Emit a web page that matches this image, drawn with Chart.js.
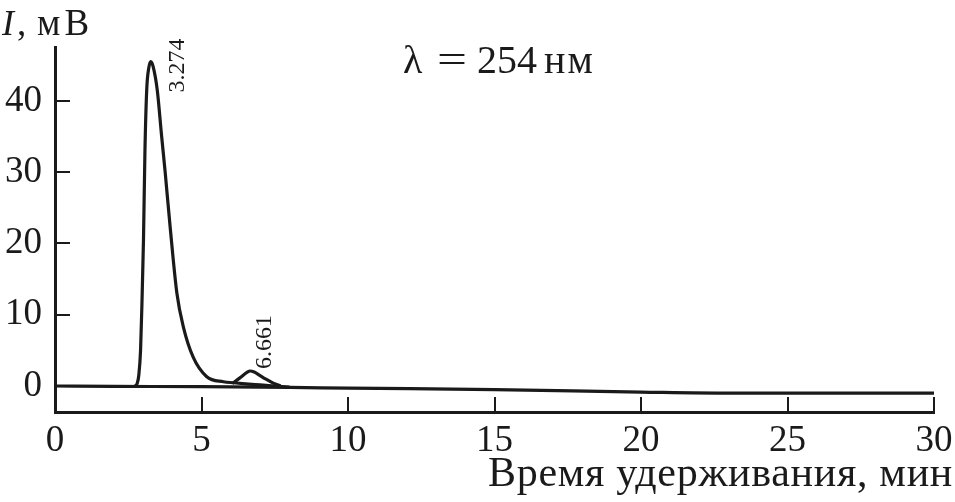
<!DOCTYPE html>
<html>
<head>
<meta charset="utf-8">
<script src="https://cdn.jsdelivr.net/npm/chart.js@4.4.1/dist/chart.umd.min.js"></script>
<style>
  body { margin: 0; background: #fff; }
  canvas { display: block; }
</style>
</head>
<body>
<canvas id="chrom" width="955" height="502"></canvas>
<script>
const ink = '#1a1a1a';
const serif = '"Liberation Serif", "Times New Roman", serif';

// baseline drift (мВ) along retention time (мин)
const baseTime = [0, 2, 5, 8, 10, 15, 20, 23, 25, 30];
const baseSignal = [0, -0.05, -0.1, -0.2, -0.3, -0.5, -0.85, -1.0, -1.0, -1.0];

// main peak 3.274
const peakTime = [2.72, 2.8, 2.86, 2.92, 2.97, 3.02, 3.07, 3.13, 3.2, 3.27, 3.35, 3.49, 3.64, 3.76, 3.93, 4.16, 4.38, 4.72, 5.18, 5.75, 6.1, 6.5, 7.0, 7.5, 8.0];
const peakSignal = [-0.05, 0.3, 1.5, 5, 12, 20.5, 33, 41.5, 44.6, 45.5, 44.8, 41.5, 35, 30, 22.3, 13, 8.3, 4.0, 1.3, 0.6, 0.45, 0.3, 0.15, 0.0, -0.15];

// small peak 6.661
const smallTime = [6.05, 6.3, 6.55, 6.66, 6.8, 7.0, 7.2, 7.45, 7.7];
const smallSignal = [0.35, 1.1, 1.9, 2.1, 1.95, 1.45, 0.95, 0.4, 0.0];

const peakLabels = [
  { x: 3.274, y: 45.5, text: '3.274', dx: 27, dy: 31 },
  { x: 6.661, y: 2.1, text: '6.661', dx: 15, dy: -2 }
];

const xTicksStep = 5;
const yTicksStep = 10;

function toPoints(xs, ys) {
  return xs.map((x, i) => ({ x: x, y: ys[i] }));
}

const textPlugin = {
  id: 'texts',
  afterDraw(chart) {
    const ctx = chart.ctx;
    const xs = chart.scales.x;
    const ys = chart.scales.y;
    ctx.save();
    ctx.fillStyle = ink;

    // peak retention times, rotated
    ctx.font = '24px ' + serif;
    peakLabels.forEach((p) => {
      const px = xs.getPixelForValue(p.x) + p.dx;
      const py = ys.getPixelForValue(p.y) + p.dy;
      ctx.save();
      ctx.translate(px, py);
      ctx.rotate(-Math.PI / 2);
      ctx.textAlign = 'left';
      ctx.textBaseline = 'middle';
      ctx.fillText(p.text, 0, 0);
      ctx.restore();
    });

    // y title
    ctx.textAlign = 'left';
    ctx.textBaseline = 'alphabetic';
    ctx.font = 'italic 36px ' + serif;
    ctx.fillText('I', 2, 35);
    ctx.font = '37px ' + serif;
    ctx.fillText(',', 17, 35);
    ctx.letterSpacing = '4px';
    ctx.fillText('мВ', 37, 35);
    ctx.letterSpacing = '0px';

    // wavelength
    ctx.font = '40px ' + serif;
    ctx.fillText('λ', 403, 73);
    ctx.save();
    ctx.translate(452, 73);
    ctx.scale(1.33, 1);
    ctx.textAlign = 'center';
    ctx.fillText('=', 0, 0);
    ctx.restore();
    ctx.fillText('254', 477, 73);
    ctx.letterSpacing = '2px';
    ctx.fillText('нм', 544, 73);

    // x title
    ctx.textAlign = 'right';
    ctx.font = '42px ' + serif;
    ctx.letterSpacing = '0.7px';
    ctx.fillText('Время удерживания, мин', 953, 486);
    ctx.restore();
  }
};

const lineStyle = {
  showLine: true,
  borderColor: ink,
  borderWidth: 3.2,
  pointRadius: 0,
  fill: false,
  cubicInterpolationMode: 'monotone'
};

new Chart(document.getElementById('chrom'), {
  type: 'scatter',
  data: {
    datasets: [
      Object.assign({ data: toPoints(baseTime, baseSignal) }, lineStyle),
      Object.assign({ data: toPoints(peakTime, peakSignal) }, lineStyle),
      Object.assign({ data: toPoints(smallTime, smallSignal) }, lineStyle)
    ]
  },
  options: {
    responsive: false,
    animation: false,
    layout: { padding: { top: 47, right: 21, left: 0, bottom: 0 } },
    plugins: { legend: { display: false }, tooltip: { enabled: false } },
    scales: {
      x: {
        type: 'linear',
        min: 0,
        max: 30,
        ticks: { stepSize: xTicksStep, color: ink, padding: 22, font: { family: serif, size: 37 } },
        grid: { drawOnChartArea: false, tickLength: -15, lineWidth: 2, color: ink },
        border: { width: 3, color: ink },
        afterFit(s) { s.height = 90; s.paddingLeft = 0; s.paddingRight = 0; }
      },
      y: {
        min: -3.65,
        max: 47.55,
        ticks: { stepSize: yTicksStep, includeBounds: false, color: ink, padding: 28, font: { family: serif, size: 37 } },
        grid: { drawOnChartArea: false, tickLength: -15, lineWidth: 2, color: ink },
        border: { width: 3, color: ink },
        afterFit(s) { s.width = 55; s.paddingTop = 0; s.paddingBottom = 0; }
      }
    }
  },
  plugins: [textPlugin]
});
</script>
</body>
</html>
